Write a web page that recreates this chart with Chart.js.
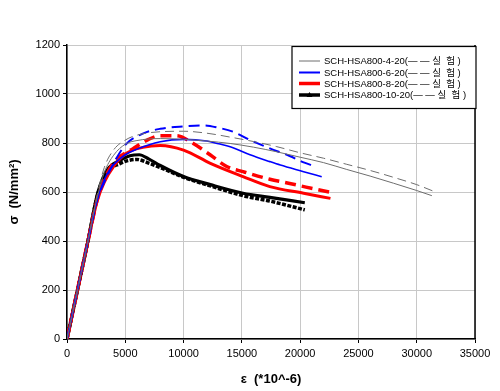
<!DOCTYPE html>
<html><head><meta charset="utf-8">
<script src="https://cdn.jsdelivr.net/npm/chart.js@4/dist/chart.umd.min.js"></script>
<style>html,body{margin:0;padding:0;background:#fff}#wrap{width:500px;height:391px}</style>
</head><body><div id="wrap"><canvas id="c" width="500" height="391"></canvas></div>
<script>
// Series labels
const seriesNames = ["SCH-HSA800-4-20", "SCH-HSA800-6-20", "SCH-HSA800-8-20", "SCH-HSA800-10-20"];
const legendSuffix = "(— — 실  험 )";
// Axis ticks
const xTicks = [0, 5000, 10000, 15000, 20000, 25000, 30000, 35000];
const yTicks = [0, 200, 400, 600, 800, 1000, 1200];

// 4-20 analysis (solid) / experiment (dashed)
const s4AnaX = [0, 900, 1800, 2600, 3200, 4000, 5000, 6000, 8000, 10000, 12000, 14000, 16000, 18000, 20000, 22000, 24000, 26000, 28000, 30000, 31300];
const s4AnaY = [0, 200, 400, 580, 680, 750, 795, 810, 818, 815, 808, 798, 783, 764, 742, 720, 692, 665, 636, 606, 585];
const s4ExpX = [0, 900, 1800, 2600, 3200, 4000, 5000, 6000, 8000, 10000, 12000, 14000, 16000, 18000, 20000, 22000, 24000, 26000, 28000, 30000, 31500];
const s4ExpY = [0, 200, 400, 590, 700, 772, 812, 832, 846, 848, 840, 824, 806, 785, 760, 738, 713, 688, 660, 630, 602];
// 6-20
const s6AnaX = [0, 900, 1800, 2600, 3200, 3800, 5000, 6000, 8000, 10000, 12000, 13000, 14000, 15700, 17400, 18300, 20300, 21850];
const s6AnaY = [0, 200, 400, 570, 650, 700, 752, 775, 805, 815, 808, 797, 785, 752, 724, 710, 683, 662];
const s6ExpX = [0, 900, 1800, 2600, 3200, 3700, 5000, 6500, 8000, 10000, 11700, 13000, 14300, 15700, 17400, 19100, 20300, 21200];
const s6ExpY = [0, 200, 400, 570, 640, 690, 792, 838, 858, 868, 872, 862, 845, 812, 778, 747, 721, 706];
// 8-20
const s8AnaX = [0, 900, 1800, 2600, 3200, 4000, 5100, 6500, 8000, 10000, 12300, 15100, 17400, 20300, 22600];
const s8AnaY = [0, 200, 400, 565, 640, 705, 758, 782, 790, 771, 717, 663, 622, 595, 574];
const s8ExpX = [0, 900, 1800, 2600, 3200, 4000, 5700, 7000, 8000, 9400, 10800, 12300, 13700, 15100, 17400, 19100, 20500, 22700];
const s8ExpY = [0, 200, 400, 570, 650, 720, 778, 815, 830, 830, 799, 751, 704, 683, 652, 635, 620, 598];
// 10-20
const s10AnaX = [0, 900, 1800, 2600, 3100, 3600, 4500, 5400, 6200, 7000, 8000, 10000, 12300, 15100, 17400, 20400];
const s10AnaY = [0, 200, 400, 590, 660, 700, 728, 748, 752, 735, 708, 663, 630, 595, 578, 556];
const s10ExpX = [0, 900, 1800, 2600, 3100, 3600, 4500, 5200, 6000, 7000, 8000, 10000, 12300, 15100, 17400, 20400];
const s10ExpY = [0, 200, 400, 585, 650, 690, 715, 728, 733, 718, 700, 660, 625, 585, 563, 527];

const pts = (xs, ys) => xs.map((x, i) => ({x: x, y: ys[i]}));
const ds = (xs, ys, color, width, dash) => ({
  data: pts(xs, ys), borderColor: color, backgroundColor: color, borderWidth: width,
  borderDash: dash || [], pointRadius: 0, showLine: true, fill: false,
  cubicInterpolationMode: 'monotone'
});

const datasets = [
  ds(s4AnaX, s4AnaY, '#6e6e6e', 1),
  ds(s4ExpX, s4ExpY, '#6e6e6e', 1, [9, 5]),
  ds(s6AnaX, s6AnaY, '#0000ff', 1.6),
  ds(s6ExpX, s6ExpY, '#0000ff', 2, [11, 6]),
  ds(s8AnaX, s8AnaY, '#ff0000', 3),
  ds(s8ExpX, s8ExpY, '#ff0000', 3.5, [11, 6]),
  ds(s10AnaX, s10AnaY, '#000000', 3.2),
  ds(s10ExpX, s10ExpY, '#000000', 3.5, [4, 1.5]),
];

const legendColors = ['#6e6e6e', '#0000ff', '#ff0000', '#000000'];
const legendWidths = [1, 2, 3.5, 3.5];

const frame = {
  id: 'frame',
  afterDraw(chart) {
    const ctx = chart.ctx, a = chart.chartArea;
    ctx.save();
    ctx.strokeStyle = '#000'; ctx.lineWidth = 1.5;
    ctx.beginPath(); ctx.moveTo(a.right, a.top); ctx.lineTo(a.right, a.bottom); ctx.stroke();
    // legend box
    const bx = 292, by = 46.5, bw = 184, bh = 62;
    ctx.fillStyle = '#fff'; ctx.fillRect(bx, by, bw, bh);
    ctx.lineWidth = 1.2; ctx.strokeStyle = '#000'; ctx.strokeRect(bx, by, bw, bh);
    ctx.font = '9.5px "Liberation Sans", "Noto Sans CJK KR", sans-serif';
    ctx.textBaseline = 'middle'; ctx.textAlign = 'left';
    const rows = [61, 72.5, 83.5, 95];
    for (let i = 0; i < 4; i++) {
      ctx.strokeStyle = legendColors[i]; ctx.lineWidth = legendWidths[i];
      ctx.beginPath(); ctx.moveTo(299, rows[i]); ctx.lineTo(320, rows[i]); ctx.stroke();
      if (i === 3) {
        ctx.fillStyle = '#000'; ctx.beginPath();
        ctx.moveTo(306.5, rows[i] + 2); ctx.lineTo(309.5, rows[i] - 3); ctx.lineTo(312.5, rows[i] + 2); ctx.closePath(); ctx.fill();
      }
      ctx.fillStyle = '#000';
      ctx.fillText(seriesNames[i] + legendSuffix, 324, rows[i] + 0.5);
    }
    ctx.restore();
  }
};

new Chart(document.getElementById('c'), {
  type: 'scatter',
  data: {datasets},
  options: {
    responsive: false, animation: false, devicePixelRatio: 1,
    layout: {padding: {top: 45, right: 25, left: 3, bottom: 0}},
    plugins: {legend: {display: false}, tooltip: {enabled: false}},
    scales: {
      x: {
        type: 'linear', min: 0, max: 35000,
        afterBuildTicks: s => { s.ticks = xTicks.map(v => ({value: v})); },
        afterFit: s => { s.height = 52; },
        grid: {color: '#c8c8c8', lineWidth: 1, drawTicks: true, tickLength: 4, tickColor: '#000'},
        border: {color: '#000', width: 1.5},
        ticks: {color: '#000', font: {size: 11, family: '"Liberation Sans", Arial, sans-serif'}, padding: 4, maxRotation: 0, callback: v => String(v)},
        title: {display: true, text: 'ε  (*10^-6)', color: '#000', font: {size: 13, weight: 'bold', family: '"Liberation Sans", Arial, sans-serif'}, padding: {top: 4}}
      },
      y: {
        type: 'linear', min: 0, max: 1200,
        afterBuildTicks: s => { s.ticks = yTicks.map(v => ({value: v})); },
        afterFit: s => { s.width = 64; },
        grid: {color: '#c8c8c8', lineWidth: 1, drawTicks: true, tickLength: 4, tickColor: '#000'},
        border: {color: '#000', width: 1.5},
        ticks: {color: '#000', font: {size: 11, family: '"Liberation Sans", Arial, sans-serif'}, padding: 3, callback: v => String(v)},
        title: {display: true, text: 'σ  (N/mm²)', color: '#000', font: {size: 13, weight: 'bold', family: '"Liberation Sans", Arial, sans-serif'}, padding: {bottom: 4}}
      }
    }
  },
  plugins: [frame]
});
</script>
</body></html>
